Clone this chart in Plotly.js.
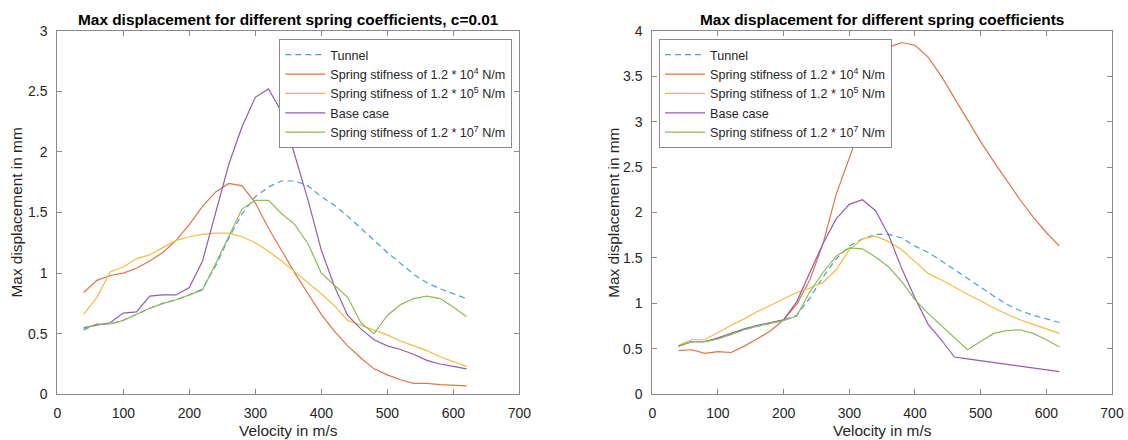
<!DOCTYPE html>
<html>
<head>
<meta charset="utf-8">
<script src="https://cdn.plot.ly/plotly-3.0.1.min.js"></script>
<style>html,body{margin:0;padding:0;background:#fff;}#chart{width:1128px;height:440px;}</style>
</head>
<body>
<div id="chart"></div>
<script>
// ---- data ----
var velocity = [40,60,80,100,120,140,160,180,200,220,240,260,280,300,320,340,360,380,400,420,440,460,480,500,520,540,560,580,600,620];

var tunnel = [0.53,0.58,0.58,0.61,0.66,0.71,0.75,0.78,0.82,0.87,1.06,1.29,1.49,1.63,1.71,1.76,1.76,1.72,1.63,1.56,1.47,1.37,1.27,1.17,1.08,0.99,0.92,0.87,0.83,0.79];

// left chart, c=0.01
var k4Left   = [0.84,0.94,0.98,1.00,1.04,1.10,1.17,1.27,1.40,1.55,1.67,1.74,1.72,1.58,1.37,1.18,1.00,0.83,0.66,0.52,0.40,0.30,0.21,0.16,0.12,0.09,0.09,0.08,0.075,0.07];
var k5Left   = [0.66,0.80,1.01,1.05,1.12,1.15,1.21,1.27,1.30,1.32,1.33,1.33,1.30,1.25,1.18,1.10,1.01,0.92,0.83,0.73,0.61,0.57,0.53,0.49,0.44,0.40,0.36,0.31,0.27,0.23];
var baseLeft = [0.55,0.57,0.59,0.67,0.68,0.81,0.82,0.82,0.88,1.10,1.50,1.90,2.21,2.45,2.52,2.33,1.97,1.60,1.19,0.89,0.65,0.54,0.45,0.40,0.37,0.33,0.28,0.25,0.23,0.21];
var k7Left   = [0.54,0.58,0.58,0.61,0.66,0.71,0.75,0.78,0.82,0.86,1.08,1.30,1.53,1.60,1.60,1.49,1.40,1.24,1.00,0.90,0.80,0.59,0.50,0.65,0.74,0.79,0.81,0.79,0.72,0.64];

// right chart
var k4Right   = [0.48,0.49,0.45,0.47,0.46,0.53,0.61,0.70,0.82,0.99,1.26,1.66,2.20,2.60,2.98,3.40,3.82,3.87,3.84,3.71,3.50,3.26,3.02,2.78,2.56,2.35,2.14,1.95,1.78,1.63];
var k5Right   = [0.54,0.60,0.60,0.68,0.76,0.83,0.91,0.98,1.05,1.12,1.17,1.23,1.37,1.59,1.71,1.74,1.68,1.59,1.46,1.33,1.26,1.18,1.10,1.03,0.95,0.88,0.82,0.77,0.72,0.67];
var baseRight = [0.53,0.58,0.58,0.62,0.67,0.72,0.76,0.79,0.82,1.02,1.35,1.66,1.93,2.09,2.14,2.02,1.75,1.38,1.06,0.77,0.60,0.41,0.39,0.37,0.35,0.33,0.31,0.29,0.27,0.25];
var k7Right   = [0.53,0.58,0.58,0.61,0.66,0.71,0.75,0.78,0.81,0.86,1.13,1.34,1.52,1.61,1.60,1.51,1.40,1.24,1.04,0.89,0.76,0.63,0.49,0.58,0.67,0.70,0.71,0.67,0.60,0.52];

var seriesNames = ['Tunnel',
  'Spring stifness of 1.2 * 10<sup>4</sup> N/m',
  'Spring stifness of 1.2 * 10<sup>5</sup> N/m',
  'Base case',
  'Spring stifness of 1.2 * 10<sup>7</sup> N/m'];
var seriesColors = ['#4a9fd6','#df7447','#eebd45','#955cae','#8dbb58'];

var titleLeft = 'Max displacement for different spring coefficients, c=0.01';
var titleRight = 'Max displacement for different spring coefficients';
var xLabel = 'Velocity in m/s';
var yLabel = 'Max displacement in mm';

// ---- build ----
var FONT = 'Liberation Sans, Arial, Helvetica, sans-serif';
var TXT = '#262626';
var AX = '#8a8a8a';

function mk(y, i, xa, ya, lg) {
  return {
    x: velocity, y: y, type: 'scatter', mode: 'lines',
    name: seriesNames[i], xaxis: xa, yaxis: ya, legend: lg,
    line: {color: seriesColors[i], width: 1.2, dash: i === 0 ? '6px,4px' : 'solid'},
    hoverinfo: 'x+y'
  };
}

var traces = [
  mk(tunnel, 0, 'x', 'y', 'legend'),
  mk(k4Left, 1, 'x', 'y', 'legend'),
  mk(k5Left, 2, 'x', 'y', 'legend'),
  mk(baseLeft, 3, 'x', 'y', 'legend'),
  mk(k7Left, 4, 'x', 'y', 'legend'),
  mk(tunnel, 0, 'x2', 'y2', 'legend2'),
  mk(k4Right, 1, 'x2', 'y2', 'legend2'),
  mk(k5Right, 2, 'x2', 'y2', 'legend2'),
  mk(baseRight, 3, 'x2', 'y2', 'legend2'),
  mk(k7Right, 4, 'x2', 'y2', 'legend2')
];

function axis(dom, rng, dt, anchor) {
  return {
    domain: dom, range: rng, dtick: dt, tick0: 0, anchor: anchor,
    showgrid: false, zeroline: false,
    showline: true, linecolor: AX, linewidth: 1, mirror: 'ticks',
    ticks: 'inside', ticklen: 5, tickwidth: 1, tickcolor: AX,
    tickfont: {family: FONT, size: 14, color: TXT},
    ticklabelstandoff: 6, fixedrange: true
  };
}

var xDomL = [57.3/1128, 519.3/1128];
var xDomR = [652.3/1128, 1112/1128];
var yDom = [(440-394.3)/440, (440-30.7)/440];

var legendBase = {
  bgcolor: '#ffffff', bordercolor: AX, borderwidth: 1,
  font: {family: FONT, size: 12.6, color: TXT},
  xanchor: 'left', yanchor: 'top', xref: 'paper', yref: 'paper',
  tracegroupgap: 0, itemwidth: 40
};

var layout = {
  width: 1128, height: 440,
  margin: {l: 0, r: 0, t: 0, b: 0},
  paper_bgcolor: '#ffffff', plot_bgcolor: '#ffffff',
  showlegend: true,
  xaxis: axis(xDomL, [0, 700], 100, 'y'),
  yaxis: axis(yDom, [0, 3], 0.5, 'x'),
  xaxis2: axis(xDomR, [0, 700], 100, 'y2'),
  yaxis2: axis(yDom, [0, 4], 0.5, 'x2'),
  legend: Object.assign({}, legendBase, {x: 279.3/1128, y: (440-39)/440}),
  legend2: Object.assign({}, legendBase, {x: 659/1128, y: (440-39)/440}),
  annotations: [
    {text: '<b>' + titleLeft + '</b>', xref: 'paper', yref: 'paper', x: 288.3/1128, y: (440-20)/440,
     xanchor: 'center', yanchor: 'middle', showarrow: false, font: {family: FONT, size: 15.4, color: '#000'}},
    {text: '<b>' + titleRight + '</b>', xref: 'paper', yref: 'paper', x: 882.2/1128, y: (440-20)/440,
     xanchor: 'center', yanchor: 'middle', showarrow: false, font: {family: FONT, size: 15.4, color: '#000'}},
    {text: xLabel, xref: 'paper', yref: 'paper', x: 288.3/1128, y: (440-430)/440,
     xanchor: 'center', yanchor: 'middle', showarrow: false, font: {family: FONT, size: 15.4, color: TXT}},
    {text: xLabel, xref: 'paper', yref: 'paper', x: 882.2/1128, y: (440-430)/440,
     xanchor: 'center', yanchor: 'middle', showarrow: false, font: {family: FONT, size: 15.4, color: TXT}},
    {text: yLabel, xref: 'paper', yref: 'paper', x: 16/1128, y: (440-212.5)/440, textangle: -90,
     xanchor: 'center', yanchor: 'middle', showarrow: false, font: {family: FONT, size: 15.4, color: TXT}},
    {text: yLabel, xref: 'paper', yref: 'paper', x: 613.3/1128, y: (440-212.5)/440, textangle: -90,
     xanchor: 'center', yanchor: 'middle', showarrow: false, font: {family: FONT, size: 15.4, color: TXT}}
  ]
};

Plotly.newPlot('chart', traces, layout, {displayModeBar: false, staticPlot: true});
</script>
</body>
</html>
